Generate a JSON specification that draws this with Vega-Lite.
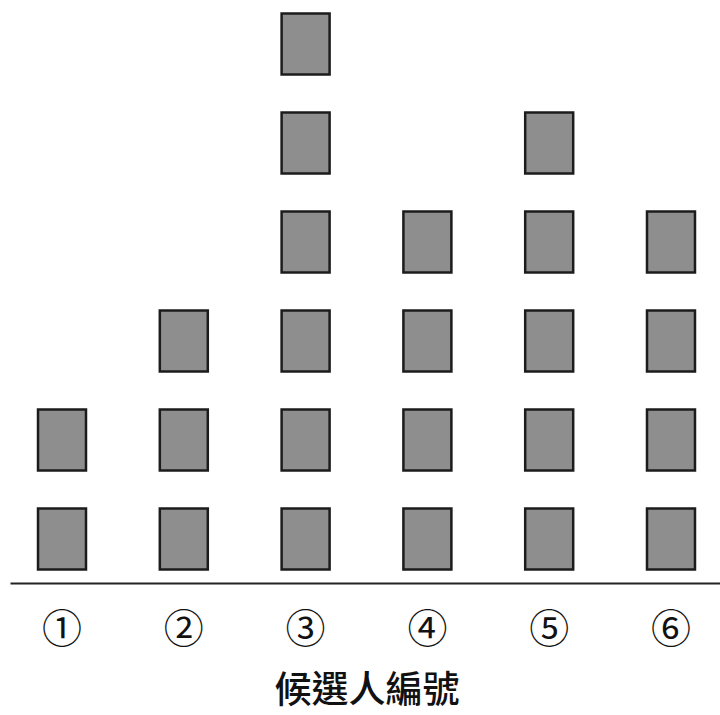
{
  "$schema": "https://vega.github.io/schema/vega-lite/v6.json",
  "width": 713,
  "height": 583,
  "autosize": {"type": "none"},
  "padding": {"left": 10, "top": 0, "right": 0, "bottom": 132},
  "background": "white",
  "config": {"view": {"stroke": null}},
  "data": {
    "values": [
      {"candidate": "①", "unit": 1}, {"candidate": "①", "unit": 2},
      {"candidate": "②", "unit": 1}, {"candidate": "②", "unit": 2}, {"candidate": "②", "unit": 3},
      {"candidate": "③", "unit": 1}, {"candidate": "③", "unit": 2}, {"candidate": "③", "unit": 3},
      {"candidate": "③", "unit": 4}, {"candidate": "③", "unit": 5}, {"candidate": "③", "unit": 6},
      {"candidate": "④", "unit": 1}, {"candidate": "④", "unit": 2}, {"candidate": "④", "unit": 3}, {"candidate": "④", "unit": 4},
      {"candidate": "⑤", "unit": 1}, {"candidate": "⑤", "unit": 2}, {"candidate": "⑤", "unit": 3}, {"candidate": "⑤", "unit": 4}, {"candidate": "⑤", "unit": 5},
      {"candidate": "⑥", "unit": 1}, {"candidate": "⑥", "unit": 2}, {"candidate": "⑥", "unit": 3}, {"candidate": "⑥", "unit": 4}
    ]
  },
  "mark": {"type": "rect", "fill": "#8e8e8e", "stroke": "#1c1c1c", "strokeWidth": 2.5},
  "encoding": {
    "x": {
      "field": "candidate",
      "type": "nominal",
      "sort": ["①", "②", "③", "④", "⑤", "⑥"],
      "scale": {"type": "band", "paddingInner": 0.606, "paddingOuter": 0.23},
      "axis": {
        "title": "候選人編號",
        "titleFont": "Noto Sans CJK TC",
        "titleFontSize": 37,
        "titleFontWeight": 500,
        "titleColor": "#111",
        "titlePadding": 23,
        "labelFont": "Noto Sans CJK TC",
        "labelFontSize": 40,
        "labelColor": "#111",
        "labelAngle": 0,
        "labelPadding": 27,
        "ticks": false,
        "tickSize": 0,
        "domainColor": "#222",
        "domainWidth": 2,
        "domainOpacity": 1,
        "grid": false
      }
    },
    "y": {
      "field": "unit",
      "type": "ordinal",
      "sort": [6, 5, 4, 3, 2, 1],
      "scale": {"type": "band", "domain": [6, 5, 4, 3, 2, 1], "paddingInner": 0.384, "paddingOuter": 0.136},
      "axis": null
    }
  }
}
